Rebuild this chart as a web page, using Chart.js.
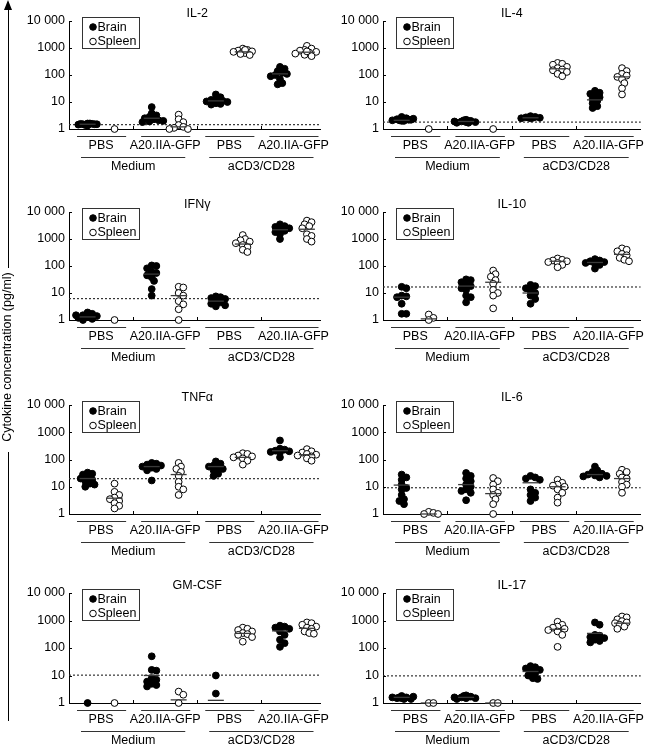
<!DOCTYPE html>
<html>
<head>
<meta charset="utf-8">
<script src="https://cdn.jsdelivr.net/npm/chart.js@4.4.1/dist/chart.umd.min.js"></script>
<style>
  html, body { margin: 0; padding: 0; background: #fff; }
  #wrap { position: relative; width: 650px; height: 748px; overflow: hidden; background: #fff; }
  canvas { position: absolute; }
  .ytitle { position: absolute; width: 180px; left: -82px; top: 349px; height: 16px; line-height: 16px;
            text-align: center; transform: rotate(-90deg); transform-origin: 50% 50%;
            font: 12.5px "Liberation Sans", Arial, sans-serif; color: #000; white-space: nowrap; }
  .vline { position: absolute; left: 8px; width: 1px; background: #000; }
  .arrowhead { position: absolute; left: 4px; top: 0px; width: 0; height: 0;
               border-left: 4px solid transparent; border-right: 4px solid transparent; border-bottom: 10px solid #000; }
</style>
</head>
<body>
<div id="wrap">
  <canvas id="c0" width="330" height="176" style="left:0px;top:0px"></canvas>
  <canvas id="c1" width="320" height="176" style="left:330px;top:0px"></canvas>
  <canvas id="c2" width="330" height="176" style="left:0px;top:191px"></canvas>
  <canvas id="c3" width="320" height="176" style="left:330px;top:191px"></canvas>
  <canvas id="c4" width="330" height="176" style="left:0px;top:384px"></canvas>
  <canvas id="c5" width="320" height="176" style="left:330px;top:384px"></canvas>
  <canvas id="c6" width="330" height="176" style="left:0px;top:572px"></canvas>
  <canvas id="c7" width="320" height="176" style="left:330px;top:572px"></canvas>
  <div class="arrowhead"></div>
  <div class="vline" style="top:6px;height:262px"></div>
  <div class="ytitle" id="ytitle"></div>
  <div class="vline" style="top:452px;height:269px"></div>
</div>
<script>
// ---------- text ----------
const yAxisTitle = 'Cytokine concentration (pg/ml)';
const panelTitles = ['IL-2', 'IL-4', 'IFNγ', 'IL-10', 'TNFα', 'IL-6', 'GM-CSF', 'IL-17'];
const seriesNames = ['Brain', 'Spleen'];
const groupLabels = ['PBS', 'A20.IIA-GFP', 'PBS', 'A20.IIA-GFP'];
const stimLabels = ['Medium', 'aCD3/CD28'];
const yTickValues = [1, 10, 100, 1000, 10000];
const yTickLabels = ['1', '10', '100', '1000', '10 000'];

// ---------- data (pg/ml), per group: Medium/PBS, Medium/A20, aCD3/PBS, aCD3/A20 ----------
const il2Brain = [[1.6,1.55,1.5,1.5,1.45,1.6,1.4,1.35,1.5,1.55],[6.5,3.8,3.2,2.8,2.5,2.3,2.1,2.0,1.9,1.8],[19,15,13,12,11,10.5,10,9,8.5,8],[200,170,140,120,110,100,90,70,50,45]];
const il2Spleen = [[1],[3.4,2.3,1.8,1.4,1.2,1.1,1,1],[950,850,800,750,720,700,650,600,550,850],[1200,950,850,800,720,680,620,560,500,750]];
const il2BrainMedian = [1.5, 2.5, 11, 110];
const il2SpleenMedian = [null, 1.2, 720, 700];

const il4Brain = [[2.8,2.5,2.3,2.2,2.1,2.0,2.0,2.1,2.2,2.4],[2.2,2.0,1.9,1.8,1.7,1.9,2.0,1.8,1.7,2.1],[3.0,2.8,2.7,2.6,2.5,2.5,2.6,2.7],[26,22,20,18,15,13,11,9,7,6]];
const il4Spleen = [[1],[1],[280,260,240,200,180,160,150,130,110,90],[180,140,110,95,85,70,50,32,19]];
const il4BrainMedian = [2.1, 1.9, 2.6, 12];
const il4SpleenMedian = [null, null, 170, 85];

const ifngBrain = [[1.9,1.7,1.5,1.4,1.3,1.2,1.1,1.0,1.3,1.5],[105,100,82,60,55,45,38,28,14,8],[7.5,7,6.5,6,5,4.5,4,3.5,3.2],[3500,3000,2800,2500,2200,2000,1800,1500,1000]];
const ifngSpleen = [[1],[17,16,10,8,5,3.8,2.5,1],[1400,1000,900,800,700,600,500,400,330],[4800,4200,3500,3000,2500,1500,1300,1000,800]];
const ifngBrainMedian = [1.3, 50, 5, 2200];
const ifngSpleenMedian = [null, 8, 650, 2300];

const il10Brain = [[17,15,8,7.5,7,4,1.7,1.7],[32,30,25,20,18,15,13,8,7,4.5],[20,18,15,12,10,8,6,4],[180,160,150,140,130,120,110,80]];
const il10Spleen = [[1.6,1.2,1],[68,50,40,30,22,13,10,8,2.7],[190,170,160,150,140,130,110,90],[450,400,350,280,250,200,170,150]];
const il10BrainMedian = [7, 18, 10, 135];
const il10SpleenMedian = [1.1, 25, 150, 270];

const tnfBrain = [[33,30,28,22,18,16,13,12,10,20],[75,70,65,60,55,50,45,40,17],[85,70,60,55,50,45,40,30,25],[500,250,230,210,200,190,180,120]];
const tnfSpleen = [[13,6.5,5,4,3.5,3,2.5,2,1.6],[75,55,45,35,25,15,10,8,5],[170,160,140,130,120,110,90,65],[240,200,180,160,150,140,130,110,90]];
const tnfBrainMedian = [20, 55, 55, 210];
const tnfSpleenMedian = [3.8, 28, 120, 150];

const il6Brain = [[28,22,18,12,9,8,5,3.5,3,2.3],[32,25,20,16,12,10,8,7,6,3.2],[25,22,20,18,8,6,5,4,3],[55,40,35,30,28,26,25,24,22]];
const il6Spleen = [[1.2,1.1,1,1],[21,16,12,8,6,5,3.5,2.3,1],[18,14,12,11,10,8,6,4,2.6],[42,35,30,22,20,15,12,10,6]];
const il6BrainMedian = [11.5, 12, 14, 28];
const il6SpleenMedian = [1, 5.6, 10, 20];

const gmcsfBrain = [[1],[50,16,15,8,7,6,5,4.5,4],[10,2.2],[650,600,550,500,400,300,200,150,110]];
const gmcsfSpleen = [[1],[2.6,2,1],[550,500,450,400,350,320,300,250,170],[850,800,700,600,550,500,400,350,330]];
const gmcsfBrainMedian = [null, 10, 1.25, 420];
const gmcsfSpleenMedian = [null, 1.3, 340, 520];

const il17Brain = [[1.8,1.6,1.5,1.4,1.6,1.7,1.5,1.4,1.6],[1.9,1.7,1.6,1.5,1.4,1.6,1.5,1.7,1.8],[22,20,18,16,14,12,10,8,7.5],[850,700,300,280,250,230,200,180,160]];
const il17Spleen = [[1,1],[1,1],[900,700,600,550,500,450,400,300,110],[1400,1300,1100,950,850,800,700,600,500]];
const il17BrainMedian = [1.6, 1.6, 14, 340];
const il17SpleenMedian = [1, 1, 480, 800];

const detectionLimits = [1.45, 1.8, 6.2, 16.7, 19.8, 9.2, 10.3, 9.7];

// ---------- build ----------
document.getElementById('ytitle').textContent = yAxisTitle;

const panels = [
  [il2Brain, il2Spleen, il2BrainMedian, il2SpleenMedian],
  [il4Brain, il4Spleen, il4BrainMedian, il4SpleenMedian],
  [ifngBrain, ifngSpleen, ifngBrainMedian, ifngSpleenMedian],
  [il10Brain, il10Spleen, il10BrainMedian, il10SpleenMedian],
  [tnfBrain, tnfSpleen, tnfBrainMedian, tnfSpleenMedian],
  [il6Brain, il6Spleen, il6BrainMedian, il6SpleenMedian],
  [gmcsfBrain, gmcsfSpleen, gmcsfBrainMedian, gmcsfSpleenMedian],
  [il17Brain, il17Spleen, il17BrainMedian, il17SpleenMedian]
];

const FAMILY = '"Liberation Sans", Arial, Helvetica, sans-serif';
const FSIZE = 12.5;
const rowPlotHeights = [108, 108, 109, 110];
const TOP_PAD = 21;
const CANVAS_H = 176;

// compact beeswarm: spread overlapping points sideways within a narrow band (layout only)
const PX_PER_UNIT = 33.2, PX_PER_DECADE = 27;
function swarm(values, center) {
  const placed = [];
  const out = [];
  const cands = [0];
  for (let k = 1; k <= 5; k++) { cands.push(k * 2.4, -k * 2.4); }
  values.forEach(v => {
    const ly = -Math.log10(v) * PX_PER_DECADE;
    let best = 0, bestD = -1;
    for (const off of cands) {
      const d = placed.length ? Math.min(...placed.map(p => Math.hypot(p.x - off, p.y - ly))) : 99;
      if (d >= 4.2) { best = off; bestD = d; break; }
      if (d > bestD + 0.8) { best = off; bestD = d; }
    }
    placed.push({ x: best, y: ly });
    out.push({ x: center + best / PX_PER_UNIT, y: v });
  });
  return out;
}

const annotPlugin = {
  id: 'annot',
  afterDraw(chart, args, opts) {
    const { ctx, chartArea: ca, scales: { x, y } } = chart;
    ctx.save();
    ctx.font = FSIZE + 'px ' + FAMILY;
    ctx.fillStyle = '#000';
    ctx.strokeStyle = '#000';
    ctx.lineWidth = 1;
    ctx.textAlign = 'center';
    ctx.textBaseline = 'middle';
    // title
    ctx.fillText(opts.title, x.getPixelForValue(4), ca.top - 7);
    // inward tick marks on x axis at group boundaries
    [2, 4, 6].forEach(v => {
      const px = Math.round(x.getPixelForValue(v)) + 0.5;
      ctx.beginPath(); ctx.moveTo(px, ca.bottom); ctx.lineTo(px, ca.bottom - 3); ctx.stroke();
    });
    // inward y ticks
    yTickValues.forEach(v => {
      const py = Math.round(y.getPixelForValue(v)) + 0.5;
      ctx.beginPath(); ctx.moveTo(ca.left, py); ctx.lineTo(ca.left + 3, py); ctx.stroke();
    });
    // group brackets
    ctx.strokeStyle = '#333';
    groupLabels.forEach((lab, i) => {
      const x0 = x.getPixelForValue(2 * i), x1 = x.getPixelForValue(2 * i + 2);
      const ly = Math.round(ca.bottom + 7) + 0.5;
      ctx.beginPath(); ctx.moveTo(x0 + 8, ly); ctx.lineTo(x1 - 7, ly); ctx.stroke();
      ctx.fillText(lab, (x0 + x1) / 2, ca.bottom + 17);
    });
    stimLabels.forEach((lab, j) => {
      const x0 = x.getPixelForValue(4 * j), x1 = x.getPixelForValue(4 * j + 4);
      const ly = Math.round(ca.bottom + 28) + 0.5;
      ctx.beginPath(); ctx.moveTo(x0 + 12, ly); ctx.lineTo(x1 - 12, ly); ctx.stroke();
      ctx.fillText(lab, (x0 + x1) / 2, ca.bottom + 38);
    });
    // legend box
    const bx = Math.round(ca.left + 13) + 0.5, by = Math.round(ca.top - 4) + 0.5;
    ctx.fillStyle = '#fff';
    ctx.fillRect(bx, by, 57, 31);
    ctx.strokeStyle = '#333';
    ctx.strokeRect(bx, by, 57, 31);
    ctx.textAlign = 'left';
    seriesNames.forEach((name, i) => {
      const cy = by + 9.5 + i * 14.5;
      ctx.beginPath();
      ctx.arc(bx + 10.5, cy, 3.3, 0, Math.PI * 2);
      if (i === 0) { ctx.fillStyle = '#000'; ctx.fill(); }
      ctx.strokeStyle = '#000';
      ctx.stroke();
      ctx.fillStyle = '#000';
      ctx.fillText(name, bx + 15, cy + 0.5);
    });
    ctx.restore();
  }
};

panels.forEach((p, idx) => {
  const [brain, spleen, brainMed, spleenMed] = p;
  const isLeft = idx % 2 === 0;
  const row = Math.floor(idx / 2);
  const plotH = rowPlotHeights[row];
  const xAxisH = CANVAS_H - TOP_PAD - plotH;
  const yW = isLeft ? 69 : 53;
  const xMax = isLeft ? 7.85 : 8;

  const brainPts = [], spleenPts = [], brainMedPts = [], spleenMedPts = [];
  for (let g = 0; g < 4; g++) {
    const bc = 2 * g + 0.58, sc = 2 * g + 1.42;
    brainPts.push(...swarm(brain[g], bc));
    spleenPts.push(...swarm(spleen[g], sc));
    if (brainMed[g] != null) brainMedPts.push({ x: bc, y: brainMed[g] });
    if (spleenMed[g] != null) spleenMedPts.push({ x: sc, y: spleenMed[g] });
  }
  const limit = detectionLimits[idx];

  new Chart(document.getElementById('c' + idx), {
    type: 'scatter',
    data: {
      datasets: [
        { label: 'median', data: brainMedPts.concat(spleenMedPts), pointStyle: 'line', pointRadius: 8,
          borderColor: '#3a3a3a', backgroundColor: '#3a3a3a', pointBorderWidth: 1.3, order: 0 },
        { label: seriesNames[0], data: brainPts, pointStyle: 'circle', pointRadius: 3.4,
          backgroundColor: '#000', borderColor: '#000', pointBorderWidth: 1, order: 1 },
        { label: seriesNames[1], data: spleenPts, pointStyle: 'circle', pointRadius: 3.4,
          backgroundColor: '#fff', borderColor: '#000', pointBorderWidth: 1, order: 2 },
        { type: 'line', label: 'limit', data: [{ x: 0, y: limit }, { x: xMax, y: limit }],
          borderColor: '#333', borderWidth: 1.2, borderDash: [2, 2], pointRadius: 0, fill: false, order: 3 }
      ]
    },
    options: {
      responsive: false,
      animation: false,
      events: [],
      clip: false,
      layout: { padding: { top: TOP_PAD, right: isLeft ? 0 : 2, left: 0, bottom: 0 } },
      plugins: { legend: { display: false }, tooltip: { enabled: false }, title: { display: false },
                 annot: { title: panelTitles[idx] } },
      scales: {
        x: {
          type: 'linear', min: 0, max: xMax,
          ticks: { display: false },
          grid: { display: true, drawOnChartArea: false, drawTicks: false, color: 'rgba(0,0,0,0)' },
          border: { display: true, color: '#000', width: 1 },
          afterFit: s => { s.height = xAxisH; }
        },
        y: {
          type: 'logarithmic', min: 1, max: 10000,
          afterBuildTicks: s => { s.ticks = yTickValues.map(v => ({ value: v })); },
          ticks: {
            autoSkip: false,
            callback: v => { const i = yTickValues.indexOf(v); return i >= 0 ? yTickLabels[i] : ''; },
            font: { family: FAMILY, size: FSIZE }, color: '#000', padding: 4
          },
          grid: { display: true, drawOnChartArea: false, drawTicks: false, color: 'rgba(0,0,0,0)' },
          border: { display: true, color: '#000', width: 1 },
          afterFit: s => { s.width = yW; }
        }
      }
    },
    plugins: [annotPlugin]
  });
});
</script>
</body>
</html>
